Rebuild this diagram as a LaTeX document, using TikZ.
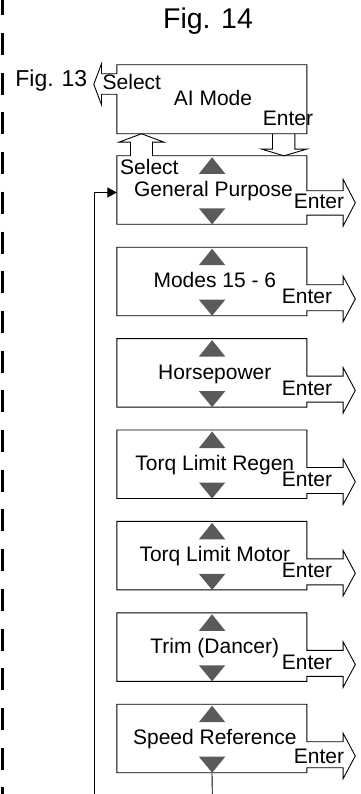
\documentclass[tikz,border=0pt]{standalone}
\usepackage{fontspec}
\setmainfont{Liberation Sans}
\usetikzlibrary{arrows.meta,calc}
\definecolor{trigray}{HTML}{5A5A5A}
\begin{document}
\begin{tikzpicture}[x=1pt,y=-1pt,
  lab/.style={font=\fontsize{21}{24}\selectfont, inner sep=0pt, anchor=base},
  box/.style={minimum width=190pt, minimum height=68.5pt, inner sep=0pt, draw=none},
  outl/.style={line width=0.9pt, line join=miter},
  conn/.style={line width=0.9pt},
  tri/.style={fill=trigray, draw=none}]
\useasboundingbox (0,0) rectangle (360,794);

% left dashed border
\draw[line width=3pt, dash pattern=on 22pt off 17.7pt, dash phase=6.7pt] (2.5,0) -- (2.5,794);

% title
\node[font=\fontsize{28.5}{34}\selectfont, inner sep=0pt, anchor=base] (title) at (208,28.3) {Fig. 14};

% AI Mode box
\node[box, minimum height=69pt] (ai) at (212,99.5) {};
\begin{scope}[shift={(ai.north west)}]
  \draw[outl] (0,29.5) -- (0,69) -- (190,69) -- (190,0) -- (0,0) -- (0,9) -- (-15.3,9) -- (-15.3,-1)
    -- (-23,19.5) -- (-15.3,40) -- (-15.3,29.5) -- cycle;
  \draw[outl] (155.7,69) -- (155.7,84.3) -- (144.7,84.3) -- (167.2,91) -- (190,84.3) -- (178,84.3) -- (178,69);
\end{scope}
\node[lab, font=\fontsize{23}{26}\selectfont, anchor=base east] (f13) at (87.5,86.7) {Fig.\hspace{8pt}13};
\node[lab, anchor=base west] (aisel) at (102.5,90) {Select};
\node[lab] (aitxt) at (213,106) {AI Mode};
\node[lab] (aient) at (288,126) {Enter};

% General Purpose box
\node[box] (gp) at (212,190.25) {};
\begin{scope}[shift={(gp.north west)}]
  \draw[outl] (35.7,0) -- (190,0) -- (190,35) -- (226.3,35) -- (226.3,23.5) -- (238.5,47) -- (226.3,70.3)
    -- (226.3,59.3) -- (190,59.3) -- (190,68.5) -- (0,68.5) -- (0,0) -- (13.7,0) -- (13.7,-13.7)
    -- (2.3,-13.7) -- (24.7,-22) -- (47,-13.7) -- (35.7,-13.7) -- cycle;
  \fill[tri] (95.3,1.5) -- (108.5,18) -- (82.1,18) -- cycle;
  \fill[tri] (82.1,52.5) -- (108.5,52.5) -- (95.3,68.5) -- cycle;
  \coordinate (gpin) at (0,36.7);
\end{scope}
\node[lab, anchor=base west] (gpsel) at (120,175) {Select};
\node[lab] (gptxt) at (213.5,196.7) {General Purpose};
\node[lab] (gpent) at (319,208.3) {Enter};

% the six lower boxes
\foreach \i/\txt in {1/Modes 15 - 6, 2/Horsepower, 3/Torq Limit Regen, 4/Torq Limit Motor, 5/Trim (Dancer), 6/Speed Reference} {
  \node[box] (b\i) at (212,{156+91.4*\i+34.25}) {};
  \begin{scope}[shift={(b\i.north west)}]
    \draw[outl] (190,63.5) -- (190,68.5) -- (0,68.5) -- (0,0) -- (190,0) -- (190,37.5) -- (226.3,37.5)
      -- (226.3,29) -- (238.5,51.75) -- (226.3,74.5) -- (226.3,63.5) -- cycle;
    \fill[tri] (95.3,1.5) -- (108.5,18) -- (82.1,18) -- cycle;
    \fill[tri] (82.1,52.5) -- (108.5,52.5) -- (95.3,68.5) -- cycle;
  \end{scope}
  \node[lab] (t\i) at ($(b\i.north)+(2.8,40.5)$) {\txt};
}
\foreach \i in {1,...,5} {
  \node[lab] (e\i) at ($(b\i.north)+(95,56.5)$) {Enter};
}
\node[lab] (e6) at ($(b6.north)+(107,58.8)$) {Enter};

% return loop
\coordinate (loopR) at (212.3,794);
\coordinate (loopL) at (94,794);
\draw[conn] (b6.south) -- (loopR);
\draw[conn, -{Triangle[length=9.4pt,width=10pt]}] (loopL) |- (gpin);
\end{tikzpicture}
\end{document}
